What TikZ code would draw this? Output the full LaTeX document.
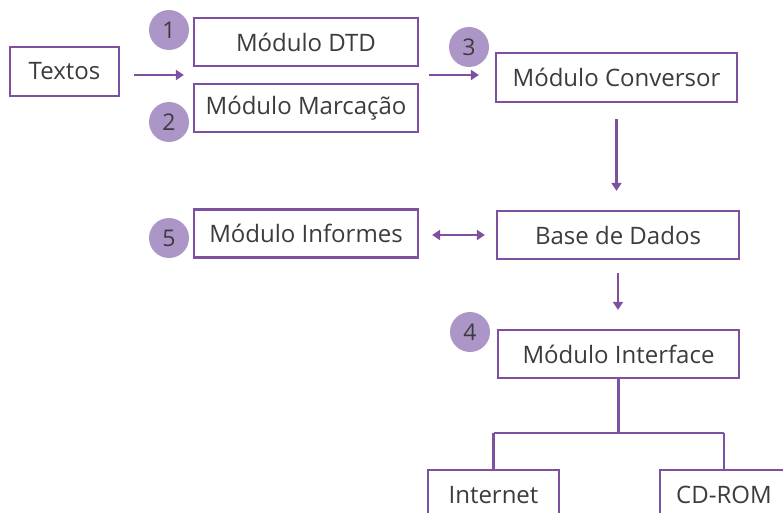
\documentclass[tikz,border=0pt]{standalone}
\usepackage{fontspec}
\setmainfont{Open Sans}
\usepackage{tikz}
\usetikzlibrary{arrows.meta,calc}

\definecolor{roxo}{RGB}{125,80,160}
\definecolor{lilas}{RGB}{172,150,200}
\definecolor{texto}{RGB}{60,60,60}

\tikzset{
  modulo/.style={draw=roxo, line width=2.2pt, fill=white, text=texto,
    minimum width=224pt, minimum height=48pt, inner sep=0pt, font=\fontsize{24}{28}\selectfont},
  passo/.style={circle, fill=lilas, text=texto, minimum size=40pt, inner sep=0pt,
    font=\fontsize{23}{26}\selectfont},
  seta/.style={draw=roxo, line width=2.4pt, -{Triangle[length=8pt,width=10pt]}},
  setas/.style={draw=roxo, line width=2.4pt, {Triangle[length=8pt,width=10pt]}-{Triangle[length=8pt,width=10pt]}},
  ramo/.style={draw=roxo, line width=2.2pt},
}

\begin{document}
\begin{tikzpicture}[x=1pt,y=-1pt]
  \useasboundingbox (0,0) rectangle (783,513);
  % caixas
  \node[modulo, minimum width=109pt, minimum height=49pt] (textos) at (64.5,71.5) {Textos};
  \node[modulo] (dtd) at (306,42) {Módulo DTD};
  \node[modulo] (marc) at (306,108) {Módulo Marcação};
  \node[modulo, minimum width=241pt, minimum height=49pt] (conv) at (616.5,77.5) {Módulo Conversor};
  \node[modulo] (inf) at (306,233.5) {Módulo Informes};
  \node[modulo, minimum width=242pt] (base) at (618,235) {Base de Dados};
  \node[modulo, minimum width=241pt] (interf) at (618.5,354) {Módulo Interface};
  \node[modulo, minimum width=131pt, minimum height=50pt] (inet) at (493.5,495) {Internet};
  \node[modulo, minimum width=128pt, minimum height=50pt] (cd) at (724,495) {CD-ROM};
  % numeros
  \node[passo] (n1) at (169,30) {1};
  \node[passo] (n2) at (169,122) {2};
  \node[passo] (n3) at (469,47) {3};
  \node[passo] (n4) at (470,332) {4};
  \node[passo] (n5) at (169,238) {5};
  % entrada e saida dos modulos 1 e 2
  \coordinate (entra) at ($(dtd.south west)!0.5!(marc.north west)$);
  \coordinate (sai) at ($(dtd.south east)!0.5!(marc.north east)$);
  % setas
  \draw[seta, shorten <=14pt, shorten >=9pt] (textos.east |- entra) -- (entra);
  \draw[seta, shorten <=10pt, shorten >=16pt] (sai) -- (sai -| conv.west);
  \draw[seta, shorten <=16pt, shorten >=19pt] (conv.south) -- (conv.south |- base.north);
  \draw[setas, shorten <=13pt, shorten >=11pt] (inf.east |- base.west) -- (base.west);
  \draw[seta, shorten <=13pt, shorten >=19pt] (base.south) -- (interf.north -| base.south);
  % saidas da interface
  \draw[ramo] (interf.south) -- ++(0,54) coordinate (ramo);
  \draw[ramo] (ramo -| inet.north) -- (ramo -| cd.north);
  \draw[ramo] (ramo -| inet.north) -- (inet.north);
  \draw[ramo] (ramo -| cd.north) -- (cd.north);
\end{tikzpicture}
\end{document}
